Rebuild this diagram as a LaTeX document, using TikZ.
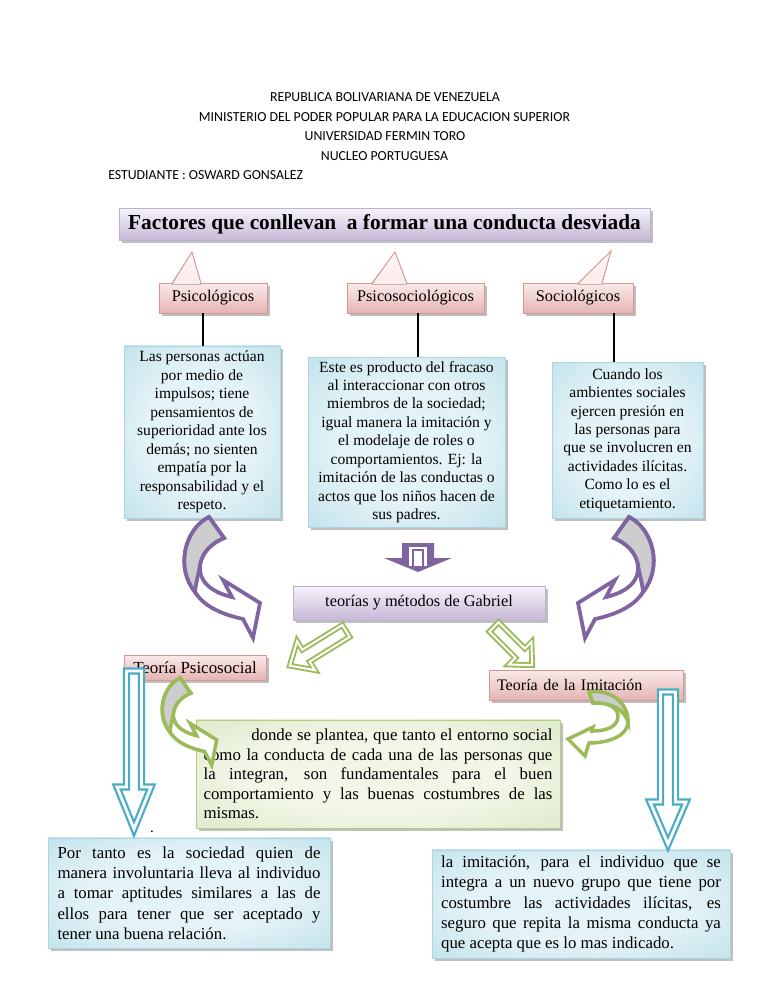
\documentclass[tikz,border=0pt]{standalone}
\usepackage{fontspec}
\setmainfont{Liberation Serif}
\newfontfamily\calib{Carlito}
\usetikzlibrary{shadows}
\setlength\parindent{0pt}
\definecolor{lavtop}{RGB}{246,243,250}
\definecolor{lavbot}{RGB}{198,185,215}
\definecolor{lavborder}{RGB}{190,178,210}
\definecolor{pinktop}{RGB}{251,234,234}
\definecolor{pinkbot}{RGB}{229,180,179}
\definecolor{pinkborder}{RGB}{214,150,148}
\definecolor{blueinner}{RGB}{228,243,247}
\definecolor{blueouter}{RGB}{130,195,213}
\definecolor{blueborder}{RGB}{170,214,228}
\definecolor{greeninner}{RGB}{241,246,231}
\definecolor{greenouter}{RGB}{188,210,145}
\definecolor{greenborder}{RGB}{180,204,135}
\definecolor{arrowpurple}{RGB}{128,100,162}
\definecolor{arrowgreen}{RGB}{155,187,89}
\definecolor{arrowblue}{RGB}{75,172,198}
\definecolor{foldgray}{RGB}{205,205,205}
\pgfdeclareradialshading{blueglow}{\pgfpoint{0bp}{0bp}}{color(0bp)=(blueinner); color(18bp)=(blueinner); color(71bp)=(blueouter)}
\pgfdeclareradialshading{greenglow}{\pgfpoint{0bp}{0bp}}{color(0bp)=(greeninner); color(18bp)=(greeninner); color(71bp)=(greenouter)}
% curved block arrow: #1 transform, #2 line style
\newcommand\curvarrow[2]{%
 \begin{scope}[#1]
  \filldraw[#2, fill=white] (0,0) .. controls (-24,12) and (-34,50) .. (-14,75) .. controls (-4,91) and (16,98) .. (34,102) -- (44,121) -- (51,86) -- (14,63) -- (23,80) .. controls (1,75) and (-11,63) .. (-9,48) .. controls (-7,35) and (3,26) .. (15,21) -- cycle;
  \filldraw[#2, fill=foldgray] (0,0) .. controls (-24,12) and (-34,50) .. (-14,75) .. controls (-13,64) and (-10,56) .. (-9,48) .. controls (-7,35) and (3,26) .. (15,21) -- cycle;
 \end{scope}}
% straight block arrow: #1 style, (#2,#3) tail centre, #4 angle, #5 length, #6 shaft half, #7 head half, #8 head length
\newcommand\blockarrow[8]{%
 \begin{scope}[shift={(#2,#3)}, rotate=#4]
  \path[#1] (0,-#6) -- ({#5-#8},-#6) -- ({#5-#8},-#7) -- (#5,0) -- ({#5-#8},#7) -- ({#5-#8},#6) -- (0,#6) -- cycle;
 \end{scope}}
\begin{document}
\begin{tikzpicture}[x=0.797pt,y=-0.797pt,
 hdr/.style={font=\calib\fontsize{11}{13}\selectfont, anchor=base, inner sep=0},
 dshadow/.style={drop shadow={shadow xshift=2.2pt, shadow yshift=-2.2pt, fill=black!55, opacity=0.45}},
 titlebox/.style={draw=lavborder, line width=0.6pt, top color=lavtop, bottom color=lavbot, inner sep=0, dshadow},
 catbox/.style={draw=pinkborder, line width=0.6pt, top color=pinktop, bottom color=pinkbot, inner sep=0, font=\fontsize{13}{15}\selectfont, dshadow},
 pointerfill/.style={top color=pinktop!40!white, bottom color=pinktop},
 pointerline/.style={draw=pinkborder, line width=0.7pt},
 conn/.style={line width=1.5pt, black},
 bluebox/.style={draw=blueborder, line width=0.6pt, shading=blueglow, inner sep=0, align=center, font=\fontsize{12.4}{14.7}\selectfont, dshadow},
 bluejust/.style={draw=blueborder, line width=0.6pt, shading=blueglow, inner ysep=0, align=justify, font=\fontsize{13.4}{16.2}\selectfont, dshadow},
 greenbox/.style={draw=greenborder, line width=0.6pt, shading=greenglow, inner ysep=0, align=justify, font=\fontsize{13.4}{15.6}\selectfont, dshadow},
 purplecurve/.style={draw=arrowpurple, line width=3pt},
 greencurve/.style={draw=arrowgreen, line width=2.8pt},
 purplesolid/.style={fill=arrowpurple},
 purplechannel/.style={fill=white},
 purplethin/.style={draw=arrowpurple, line width=0.9pt},
 greenblock/.style={draw=arrowgreen, double=white, double distance=1.6pt, line width=1.5pt, fill=white},
 blueblock/.style={draw=arrowblue, double=white, double distance=2.2pt, line width=1.8pt, fill=white}
]
\useasboundingbox (0,0) rectangle (768,994);
\fill[white] (0,0) rectangle (768,994);

% header
\node[hdr] (h1) at (385,101.5) {REPUBLICA BOLIVARIANA DE VENEZUELA};
\node[hdr] (h2) at (384.5,121) {MINISTERIO DEL PODER POPULAR PARA LA EDUCACION SUPERIOR};
\node[hdr] (h3) at (385,140.5) {UNIVERSIDAD FERMIN TORO};
\node[hdr] (h4) at (384.5,160) {NUCLEO PORTUGUESA};
\node[hdr, anchor=base west] (h5) at (108,179.5) {ESTUDIANTE : OSWARD GONSALEZ};

% title
\node[titlebox, minimum width=423.2pt, minimum height=25.5pt, font=\bfseries\fontsize{17}{20}\selectfont] (title) at (384.5,224) {Factores que conllevan~ a formar una conducta desviada};

% categories
\node[catbox, minimum width=86.1pt, minimum height=23.9pt] (psi) at (213,298) {Psicológicos};
\node[catbox, minimum width=109.2pt, minimum height=23.9pt] (psis) at (415.5,298) {Psicosociológicos};
\node[catbox, minimum width=87.7pt, minimum height=23.9pt] (soc) at (578,298) {Sociológicos};
\fill[pointerfill] (172,284.6) -- (192,252) -- (201,284.6) -- cycle;
\draw[pointerline] (172,283.3) -- (192,252) -- (201,283.3);
\fill[pointerfill] (372,284.6) -- (395,252) -- (407,284.6) -- cycle;
\draw[pointerline] (372,283.3) -- (395,252) -- (407,283.3);
\fill[pointerfill] (578,284.6) -- (611,251) -- (602,284.6) -- cycle;
\draw[pointerline] (578,283.3) -- (611,251) -- (602,283.3);

% description boxes
\node[bluebox, minimum width=124.3pt, minimum height=137.1pt] (t1) at (202,432) {Las personas actúan\\por medio de\\impulsos; tiene\\pensamientos de\\superioridad ante los\\demás; no sienten\\empatía por la\\responsabilidad y el\\respeto.};
\node[bluebox, minimum width=157pt, minimum height=135.5pt] (t2) at (406.5,442) {Este es producto del fracaso\\al interaccionar con otros\\miembros de la sociedad;\\igual manera la imitación y\\el modelaje de roles o\\comportamientos. Ej: la\\imitación de las conductas o\\actos que los niños hacen de\\sus padres.};
\node[bluebox, minimum width=120.3pt, minimum height=124.3pt] (t3) at (627.5,440) {Cuando los\\ambientes sociales\\ejercen presión en\\las personas para\\que se involucren en\\actividades ilícitas.\\Como lo es el\\etiquetamiento.};

\draw[conn] ([xshift=-8pt]psi.south) -- ([xshift=-8pt]psi.south |- t1.north);
\draw[conn] ([xshift=2pt]psis.south) -- ([xshift=2pt]psis.south |- t2.north);
\draw[conn] ([xshift=28.7pt]soc.south) -- ([xshift=28.7pt]soc.south |- t3.north);

% purple arrows
\curvarrow{shift={(209,517)}}{purplecurve}
\curvarrow{shift={(629,517)},xscale=-1}{purplecurve}
\blockarrow{purplesolid}{418}{543}{-90}{29}{16}{34}{14}
\fill[purplechannel] (409,547) rectangle (427,566);
\draw[purplethin] (413,566) -- (413,550) -- (423,550) -- (423,566);

% theories
\node[titlebox, minimum width=200.8pt, minimum height=27.1pt, font=\fontsize{13}{15}\selectfont] (teo) at (419,603) {teorías y métodos de Gabriel};
\blockarrow{greenblock}{346}{631}{-148.3}{66}{7}{17}{19}
\blockarrow{greenblock}{494}{627}{-45}{54}{6.5}{16}{17}

\node[catbox, minimum width=113.2pt, minimum height=19.9pt, font=\fontsize{13.5}{15}\selectfont] (tps) at (195,667.5) {Teoría Psicosocial};
\node[catbox, minimum width=154.6pt, minimum height=23.9pt, text width=141.8pt, inner xsep=6.4pt, align=left, font=\fontsize{12.8}{15}\selectfont] (tim) at (586,685) {Teoría\hspace{4.5pt}de la Imitación};

\node[greenbox, minimum width=290.1pt, minimum height=86.1pt, text width=278pt, inner xsep=6pt] (gbox) at (378,774) {\noindent\hspace*{38pt}donde se plantea, que tanto el entorno social\linebreak como la conducta de cada una de las personas que\linebreak la integran, son fundamentales para el buen\linebreak comportamiento y las buenas costumbres de las\linebreak mismas.};

% green curved arrows
\curvarrow{shift={(180,678)},scale=0.72}{greencurve}
\filldraw[greencurve, fill=white] (589,692) .. controls (610,689) and (628,702) .. (628,722) .. controls (628,736) and (608,743) .. (589,743) -- (585,756) -- (568,739) -- (593,727) -- (592,731) .. controls (608,731) and (618,726) .. (618,716) .. controls (618,707) and (606,702) .. (593,703) -- cycle;
\filldraw[greencurve, fill=foldgray] (589,692) .. controls (610,689) and (628,702) .. (628,722) .. controls (624,709) and (610,702) .. (593,703) -- cycle;

% bottom boxes
\node[bluejust, minimum width=224.8pt, minimum height=87.7pt, text width=209.6pt, inner xsep=7.6pt] (bl) at (189,893) {\noindent Por tanto es la sociedad quien de\linebreak manera involuntaria lleva al individuo\linebreak a tomar aptitudes similares a las de\linebreak ellos para tener que ser aceptado y\linebreak tener una buena relación.};
\node[bluejust, minimum width=237.5pt, minimum height=86.1pt, text width=223pt, inner xsep=7.25pt] (br) at (581,904) {\noindent la imitación, para el individuo que se\linebreak integra a un nuevo grupo que tiene por\linebreak costumbre las actividades ilícitas, es\linebreak seguro que repita la misma conducta ya\linebreak que acepta que es lo mas indicado.};

% blue arrows
\blockarrow{blueblock}{134}{671}{-90}{158}{7.5}{17}{42}
\blockarrow{blueblock}{668}{692}{-90}{152}{7.5}{18}{42}

\node[font=\fontsize{12}{14}\selectfont, anchor=base, inner sep=0] (dot) at (152,832) {.};
\end{tikzpicture}
\end{document}
